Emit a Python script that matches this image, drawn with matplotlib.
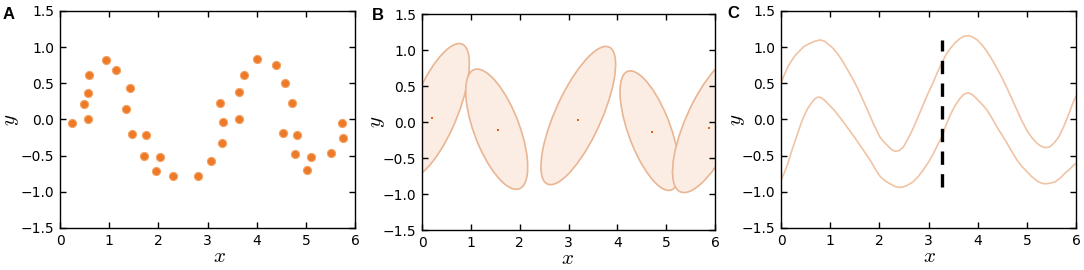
import numpy as np
import matplotlib
matplotlib.use("Agg")
import matplotlib.pyplot as plt
import matplotlib.patches as mpatches

# ---- data ----
# panel A: observed points
scatter_x = [0.24, 0.49, 0.56, 0.58, 0.56, 0.94, 1.13, 1.42, 1.35, 1.47, 1.75, 1.70,
             1.95, 2.04, 2.30, 2.80, 3.07, 3.25, 3.31, 3.29, 3.63, 3.63, 3.75, 4.00,
             4.39, 4.58, 4.72, 4.54, 4.83, 4.78, 5.03, 5.11, 5.51, 5.74, 5.76]
scatter_y = [-0.05, 0.21, 0.37, 0.61, 0.00, 0.82, 0.69, 0.43, 0.14, -0.20, -0.22, -0.50,
             -0.71, -0.52, -0.78, -0.78, -0.58, 0.23, -0.04, -0.32, 0.38, 0.00, 0.61, 0.83,
             0.76, 0.51, 0.23, -0.19, -0.21, -0.48, -0.70, -0.52, -0.47, -0.05, -0.25]

# panel B: ellipses (centre, half extents, correlation) and centre dots
ellipse_cx = [0.27, 1.53, 3.20, 4.66, 5.92]
ellipse_cy = [0.16, -0.10, 0.09, -0.12, -0.02]
ellipse_sx = [0.70, 0.635, 0.765, 0.605, 0.79]
ellipse_sy = [0.93, 0.835, 0.96, 0.83, 0.96]
ellipse_rho = [0.70, -0.63, 0.74, -0.65, 0.70]
dot_x = [0.20, 1.55, 3.20, 4.70, 5.88]
dot_y = [0.06, -0.11, 0.03, -0.14, -0.08]

# panel C: two curves and the dashed marker
upper_x = [0, 0.05, 0.14, 0.27, 0.38, 0.47, 0.58, 0.68, 0.80, 0.89, 0.98, 1.05, 1.15, 1.25,
           1.36, 1.46, 1.56, 1.66, 1.76, 1.88, 2.01, 2.08, 2.15, 2.24, 2.32, 2.40, 2.49,
           2.58, 2.69, 2.79, 2.89, 2.99, 3.10, 3.18, 3.27, 3.35, 3.44, 3.54, 3.64, 3.72,
           3.81, 3.90, 3.99, 4.09, 4.19, 4.29, 4.39, 4.50, 4.60, 4.70, 4.80, 4.90, 5.00,
           5.10, 5.21, 5.29, 5.38, 5.46, 5.55, 5.65, 5.75, 5.85, 5.95, 6.0]
upper_y = [0.50, 0.59, 0.73, 0.87, 0.95, 1.01, 1.05, 1.08, 1.10, 1.08, 1.03, 0.99, 0.91, 0.81,
           0.68, 0.56, 0.43, 0.28, 0.13, -0.06, -0.24, -0.30, -0.35, -0.41, -0.44, -0.43, -0.38,
           -0.27, -0.12, 0.04, 0.20, 0.36, 0.52, 0.65, 0.78, 0.89, 0.98, 1.06, 1.12, 1.15,
           1.16, 1.14, 1.10, 1.03, 0.94, 0.83, 0.71, 0.57, 0.43, 0.28, 0.13, -0.02, -0.15,
           -0.25, -0.33, -0.37, -0.39, -0.38, -0.33, -0.24, -0.10, 0.07, 0.25, 0.32]
lower_x = [0, 0.07, 0.14, 0.20, 0.27, 0.34, 0.41, 0.47, 0.54, 0.61, 0.68, 0.72, 0.76, 0.82,
           0.88, 0.98, 1.08, 1.22, 1.36, 1.50, 1.63, 1.73, 1.83, 1.93, 2.02, 2.12, 2.22,
           2.33, 2.45, 2.57, 2.69, 2.79, 2.89, 3.00, 3.10, 3.18, 3.27, 3.35, 3.44, 3.54,
           3.64, 3.72, 3.81, 3.90, 3.99, 4.09, 4.19, 4.29, 4.39, 4.50, 4.60, 4.70, 4.80,
           4.90, 5.00, 5.10, 5.21, 5.30, 5.38, 5.48, 5.58, 5.68, 5.78, 5.87, 5.95, 6.0]
lower_y = [-0.84, -0.73, -0.61, -0.47, -0.33, -0.19, -0.05, 0.05, 0.15, 0.22, 0.28, 0.30, 0.31, 0.30,
           0.27, 0.20, 0.13, 0.01, -0.12, -0.25, -0.38, -0.48, -0.58, -0.70, -0.79, -0.85, -0.89,
           -0.93, -0.94, -0.91, -0.86, -0.79, -0.70, -0.59, -0.47, -0.36, -0.24, -0.09, 0.06, 0.19,
           0.29, 0.35, 0.37, 0.34, 0.28, 0.21, 0.13, 0.02, -0.10, -0.22, -0.33, -0.45, -0.56,
           -0.65, -0.72, -0.79, -0.85, -0.88, -0.89, -0.88, -0.86, -0.81, -0.74, -0.69, -0.63, -0.61]
dash_x = 3.27
dash_y = [-0.93, 1.10]

x_ticks = [0, 1, 2, 3, 4, 5, 6]
y_ticks = [-1.5, -1.0, -0.5, 0.0, 0.5, 1.0, 1.5]

# ---- styling ----
ORANGE = '#ee7a28'
ORANGE_EDGE = '#f3a263'
LIGHT_LINE = '#f0c3a4'
ELLIPSE_EDGE = '#e9b592'
ELLIPSE_FACE = '#fbede4'

plt.rcParams['font.family'] = ['DejaVu Sans']
plt.rcParams['mathtext.fontset'] = 'cm'
plt.rcParams['axes.linewidth'] = 1.0


def style_axis(ax, ylab_x, xlab_x):
    ax.set_xlim(0, 6)
    ax.set_ylim(-1.5, 1.5)
    ax.set_xticks(x_ticks)
    ax.set_yticks(y_ticks)
    ax.set_yticklabels([f"{v:.1f}".replace('-', '\u2212') for v in y_ticks])
    ax.tick_params(direction='in', top=True, right=True, length=4, width=1,
                   labelsize=10, pad=4)
    ax.set_xlabel('$x$', fontsize=15)
    ax.set_ylabel('$y$', fontsize=15)
    ax.xaxis.set_label_coords(xlab_x, -0.085)
    ax.yaxis.set_label_coords(ylab_x, 0.5)
#END style_axis


def plot_scatter(ax):
    ax.scatter(scatter_x, scatter_y, s=34, facecolor=ORANGE, edgecolor=ORANGE_EDGE,
               linewidth=0.8, zorder=3)
#END plot_scatter


def plot_ellipses(ax):
    for cx, cy, sx, sy, r in zip(ellipse_cx, ellipse_cy, ellipse_sx, ellipse_sy, ellipse_rho):
        cov = np.array([[sx * sx, r * sx * sy], [r * sx * sy, sy * sy]])
        vals, vecs = np.linalg.eigh(cov)
        angle = np.degrees(np.arctan2(vecs[1, 1], vecs[0, 1]))
        ell = mpatches.Ellipse((cx, cy), 2 * np.sqrt(vals[1]), 2 * np.sqrt(vals[0]),
                               angle=angle, facecolor=ELLIPSE_FACE, edgecolor=ELLIPSE_EDGE,
                               linewidth=1.2)
        ax.add_patch(ell)
    ax.plot(dot_x, dot_y, 's', color='#e0661a', markersize=1.6, markeredgewidth=0)
#END plot_ellipses


def plot_curves(ax):
    ax.plot(upper_x, upper_y, color=LIGHT_LINE, linewidth=1.2)
    ax.plot(lower_x, lower_y, color=LIGHT_LINE, linewidth=1.2)
    ax.plot([dash_x, dash_x], dash_y, color='black', linewidth=2.4,
            dashes=(4.0, 2.8), zorder=4)
#END plot_curves


fig = plt.figure(figsize=(10.84, 2.70), dpi=100)
ax_a = fig.add_axes([0.0554, 0.1556, 0.2721, 0.8037])
ax_b = fig.add_axes([0.3893, 0.1481, 0.2703, 0.8000])
ax_c = fig.add_axes([0.7205, 0.1556, 0.2721, 0.8037])

plot_scatter(ax_a)
plot_ellipses(ax_b)
plot_curves(ax_c)

style_axis(ax_a, -0.133, 0.542)
style_axis(ax_b, -0.12, 0.498)
style_axis(ax_c, -0.115, 0.502)

# panel letters
for letter, (lx, ly) in zip("ABC", [(0.0028, 0.9296), (0.3432, 0.926), (0.6707, 0.9333)]):
    fig.text(lx, ly, letter, fontsize=12, fontweight='bold',
             family=['Liberation Sans', 'DejaVu Sans'], va='baseline', ha='left')

fig.savefig('out.png', dpi=100)
